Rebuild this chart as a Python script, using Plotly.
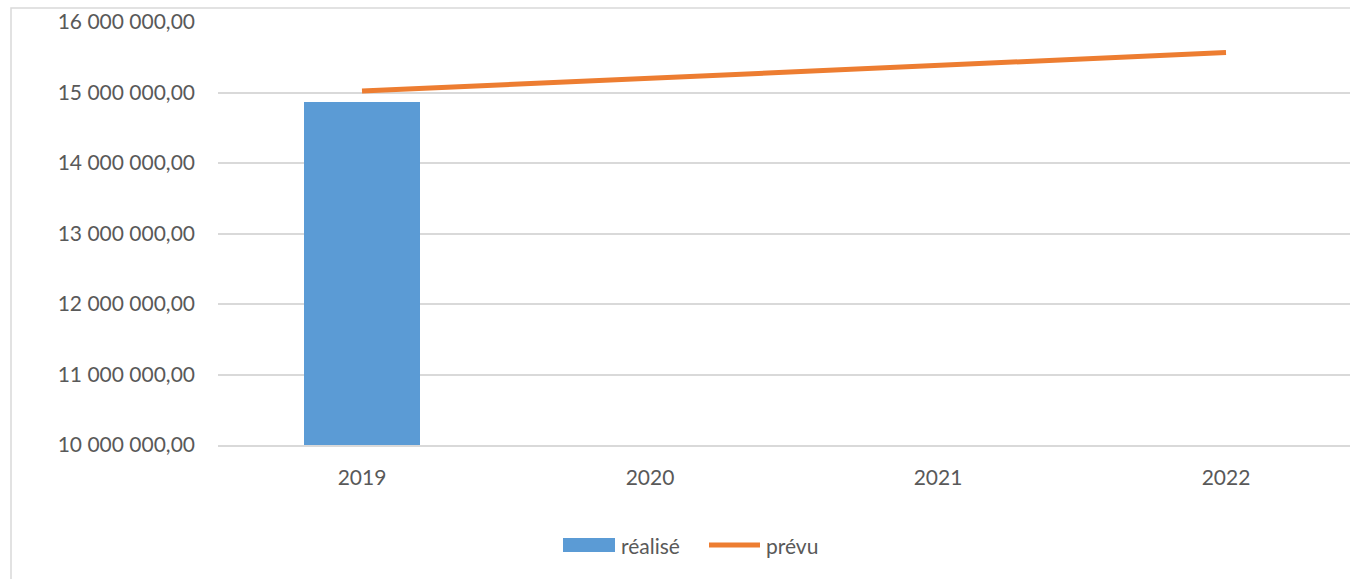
import plotly.graph_objects as go

years = ["2019", "2020", "2021", "2022"]
realise = [14870000, None, None, None]
prevu = [15020000, 15204000, 15377000, 15566000]
legend_labels = ["réalisé", "prévu"]
bar_color = "#5B9BD5"
line_color = "#ED7D31"

W, H = 1350, 579
L, T, B = 218, 22, 134
plot_w = W - L
plot_h = H - T - B


def px(x):
    return (x - L) / plot_w


def py(y):
    return (H - B - y) / plot_h


fig = go.Figure()
fig.add_trace(go.Bar(
    x=years, y=realise, name=legend_labels[0],
    marker=dict(color=bar_color, line=dict(width=0)),
    width=0.403, showlegend=False,
))
fig.add_trace(go.Scatter(
    x=years, y=prevu, name=legend_labels[1], mode="lines",
    line=dict(color=line_color, width=5), showlegend=False,
))

font_family = "Lato, 'Open Sans', sans-serif"
txt_color = "#595959"

shapes = [
    dict(type="rect", xref="paper", yref="paper",
         x0=px(11), x1=1.2, y0=-1, y1=py(8),
         line=dict(color="#D9D9D9", width=1.5), layer="below"),
    # legend swatches
    dict(type="rect", xref="paper", yref="paper",
         x0=px(563), x1=px(615), y0=py(552), y1=py(538),
         fillcolor=bar_color, line=dict(width=0)),
    dict(type="line", xref="paper", yref="paper",
         x0=px(709), x1=px(760), y0=py(545), y1=py(545),
         line=dict(color=line_color, width=5)),
]
annotations = [
    dict(xref="paper", yref="paper", x=px(619), y=py(545), text=legend_labels[0],
         showarrow=False, xanchor="left", yanchor="middle",
         font=dict(family=font_family, size=21, color=txt_color)),
    dict(xref="paper", yref="paper", x=px(764), y=py(545), text=legend_labels[1],
         showarrow=False, xanchor="left", yanchor="middle",
         font=dict(family=font_family, size=21, color=txt_color)),
]

fig.update_layout(
    width=W, height=H,
    margin=dict(l=L, r=0, t=T, b=B),
    paper_bgcolor="white", plot_bgcolor="white",
    separators=", ",
    font=dict(family=font_family, size=21, color=txt_color),
    showlegend=False,
    bargap=0,
    xaxis=dict(type="category", range=[-0.5, 3 + (W - 1226) / 288],
               showgrid=False, zeroline=False, showline=True,
               linecolor="#D9D9D9", linewidth=1.5, ticks="",
               ticklabelstandoff=13, tickfont=dict(size=21, color=txt_color)),
    yaxis=dict(range=[10000000, 16000000], dtick=1000000, tickformat=",.2f",
               showgrid=True, gridcolor="#D9D9D9", gridwidth=1.5,
               zeroline=False, showline=False, ticks="",
               ticklabelstandoff=22, tickfont=dict(size=21, color=txt_color)),
    shapes=shapes,
    annotations=annotations,
)

fig.write_html("out.html")
